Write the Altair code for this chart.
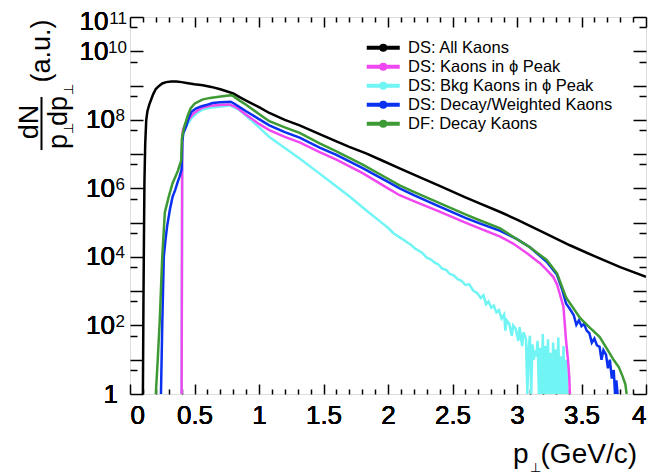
import altair as alt
import pandas as pd
import numpy as np

# ---------------- data (y stored as log10) ----------------
series_names = ["DS: All Kaons", "DS: Kaons in ϕ Peak", "DS: Bkg Kaons in ϕ Peak",
                "DS: Decay/Weighted Kaons", "DF: Decay Kaons"]
series_colors = ["#000000", "#f048f0", "#70f4f4", "#0a30f0", "#3d9a35"]
draw_order = [0, 2, 1, 3, 4]

all_p = [0.100, 0.104, 0.108, 0.112, 0.118, 0.126, 0.135, 0.150, 0.165, 0.180, 0.200,
         0.225, 0.250, 0.280, 0.320, 0.360, 0.400, 0.450, 0.500, 0.565, 0.630, 0.700,
         0.760, 0.800, 0.850, 0.900, 1.000, 1.080, 1.200, 1.315, 1.470, 1.600, 1.700,
         1.830, 1.950, 2.090, 2.200, 2.400, 2.600, 2.710, 2.870, 3.000, 3.200, 3.410,
         3.600, 3.800, 4.000]
all_lg = [0.0, 2.5, 4.5, 6.2, 7.3, 8.0, 8.25, 8.45, 8.60, 8.75, 8.90,
          8.99, 9.06, 9.10, 9.12, 9.12, 9.10, 9.07, 9.04, 9.01, 8.96, 8.89,
          8.82, 8.77, 8.66, 8.56, 8.37, 8.20, 8.00, 7.84, 7.58, 7.37, 7.21,
          7.02, 6.82, 6.58, 6.40, 6.07, 5.74, 5.56, 5.31, 5.09, 4.72, 4.34,
          4.02, 3.70, 3.42]

mag_p = [0.400, 0.405, 0.410, 0.430, 0.450, 0.490, 0.530, 0.565, 0.620, 0.690, 0.770,
         0.820, 0.900, 1.000, 1.080, 1.200, 1.315, 1.470, 1.600, 1.800, 2.000, 2.090,
         2.200, 2.400, 2.600, 2.710, 2.870, 2.970, 3.080, 3.180, 3.230, 3.280, 3.310,
         3.330, 3.360, 3.380, 3.395, 3.405, 3.410]
mag_lg = [0.0, 7.45, 7.70, 7.88, 7.99, 8.18, 8.29, 8.36, 8.41, 8.43, 8.45,
          8.38, 8.15, 7.88, 7.70, 7.50, 7.34, 7.06, 6.84, 6.45, 6.00, 5.80,
          5.63, 5.32, 5.00, 4.83, 4.59, 4.39, 4.10, 3.81, 3.62, 3.42, 3.20,
          2.94, 2.55, 1.57, 1.00, 0.50, 0.0]

bkg_p = [0.400, 0.405, 0.420, 0.450, 0.475, 0.520, 0.565, 0.620, 0.690, 0.770, 0.800,
         0.850, 0.900, 1.000, 1.080, 1.200, 1.315, 1.470, 1.570, 1.700, 1.830, 1.950,
         2.000, 2.040, 2.090, 2.120, 2.150, 2.180, 2.210, 2.240, 2.270, 2.300, 2.330,
         2.360, 2.390, 2.420, 2.450, 2.480, 2.510, 2.540, 2.570, 2.600, 2.630, 2.660,
         2.690, 2.720, 2.740, 2.760, 2.780, 2.800, 2.820, 2.840, 2.860, 2.880, 2.900,
         2.910, 2.920, 2.940, 2.960, 2.970, 2.990, 3.010, 3.020, 3.040, 3.050, 3.070,
         3.080, 3.090, 3.100, 3.110, 3.120, 3.130, 3.140, 3.150, 3.160, 3.170, 3.180,
         3.190, 3.200, 3.210, 3.220, 3.230, 3.240, 3.250, 3.260, 3.270, 3.280, 3.290,
         3.300, 3.310, 3.320, 3.330, 3.340, 3.350, 3.360, 3.370, 3.380, 3.390]
bkg_lg = [0.0, 7.40, 7.70, 7.90, 8.04, 8.20, 8.30, 8.35, 8.38, 8.42, 8.38,
          8.28, 8.12, 7.78, 7.50, 7.18, 6.87, 6.43, 6.14, 5.77, 5.36, 5.00,
          4.85, 4.70, 4.57, 4.50, 4.42, 4.35, 4.24, 4.18, 4.10, 3.98, 3.93,
          3.84, 3.78, 3.66, 3.62, 3.50, 3.46, 3.35, 3.30, 3.18, 3.20, 3.02,
          2.95, 2.80, 2.88, 2.62, 2.70, 2.52, 2.58, 2.38, 2.45, 2.20, 2.32,
          1.85, 2.15, 2.05, 1.70, 2.00, 1.90, 1.55, 1.95, 1.40, 1.80, 1.60,
          0.0, 1.30, 1.70, 0.0, 1.45, 1.00, 1.20, 1.15, 1.55, 0.0, 1.35,
          0.0, 1.75, 0.0, 1.40, 0.0, 1.60, 0.0, 1.20, 0.0, 1.50, 0.0,
          1.30, 0.0, 1.65, 0.0, 1.10, 0.0, 1.40, 0.0, 1.00, 0.0]

dec_p = [0.240, 0.250, 0.262, 0.275, 0.288, 0.310, 0.330, 0.350, 0.370, 0.385, 0.400,
         0.405, 0.412, 0.435, 0.455, 0.475, 0.510, 0.550, 0.590, 0.640, 0.700, 0.745,
         0.780, 0.810, 0.900, 1.000, 1.080, 1.200, 1.315, 1.470, 1.600, 1.800, 2.000,
         2.090, 2.200, 2.400, 2.600, 2.710, 2.870, 3.000, 3.100, 3.230, 3.310, 3.350,
         3.380, 3.410, 3.440, 3.460, 3.480, 3.500, 3.520, 3.540, 3.560, 3.580, 3.600,
         3.620, 3.640, 3.655, 3.670, 3.690, 3.705, 3.720, 3.735, 3.750, 3.760, 3.770,
         3.780]
dec_lg = [0.0, 2.0, 4.0, 4.5, 4.9, 5.4, 5.75, 5.95, 6.19, 6.35, 6.55,
          7.35, 7.60, 7.80, 8.05, 8.23, 8.33, 8.39, 8.43, 8.49, 8.51, 8.52,
          8.53, 8.47, 8.25, 8.02, 7.84, 7.64, 7.48, 7.19, 6.98, 6.60, 6.19,
          6.00, 5.80, 5.47, 5.14, 4.98, 4.76, 4.52, 4.28, 3.86, 3.48, 3.05,
          2.64, 2.48, 2.30, 2.02, 2.15, 1.98, 2.05, 1.85, 1.78, 1.50, 1.62,
          1.42, 1.38, 1.00, 1.28, 1.15, 0.75, 1.00, 0.45, 0.70, 0.0, 0.40,
          0.0]

df_p = [0.200, 0.215, 0.230, 0.250, 0.270, 0.300, 0.330, 0.370, 0.397, 0.402, 0.420,
        0.450, 0.470, 0.500, 0.560, 0.620, 0.690, 0.750, 0.790, 0.850, 0.900, 1.000,
        1.080, 1.200, 1.315, 1.470, 1.600, 1.800, 2.000, 2.090, 2.200, 2.400, 2.600,
        2.710, 2.870, 2.970, 3.100, 3.230, 3.310, 3.380, 3.490, 3.560, 3.640, 3.700,
        3.750, 3.790, 3.820, 3.840, 3.850]
df_lg = [0.0, 1.0, 2.1, 4.0, 5.3, 5.75, 6.15, 6.50, 6.82, 7.45, 7.79,
         8.15, 8.33, 8.47, 8.59, 8.64, 8.67, 8.70, 8.72, 8.56, 8.44, 8.17,
         7.96, 7.78, 7.62, 7.31, 7.08, 6.70, 6.28, 6.09, 5.90, 5.57, 5.24,
         5.07, 4.83, 4.59, 4.28, 3.91, 3.52, 2.82, 2.21, 1.95, 1.67, 1.30,
         0.99, 0.78, 0.50, 0.28, 0.0]

x_major = [0, 0.5, 1, 1.5, 2, 2.5, 3, 3.5, 4]
x_ticks = [round(0.1 * i, 1) for i in range(41)]
y_label_vals = [1, 1e2, 1e4, 1e6, 1e8, 1e10, 1e11]
y_ticks = [10.0 ** k for k in range(12)] + [5 * 10.0 ** k for k in range(11)]

# ---------------- table ----------------
pieces = []
for name, ps, ls in zip(series_names,
                        [all_p, mag_p, bkg_p, dec_p, df_p],
                        [all_lg, mag_lg, bkg_lg, dec_lg, df_lg]):
    pieces.append(pd.DataFrame({"series": name, "p": ps,
                                "v": np.power(10.0, np.array(ls))}))
data = pd.concat(pieces, ignore_index=True)

W, H = 516, 377
FONT = "Liberation Sans"

xscale = alt.Scale(domain=[0, 4], nice=False, zero=False)
yscale = alt.Scale(type="log", domain=[1, 1e11], nice=False)

XMAJ = "abs(datum.value*2 - round(datum.value*2)) < 0.001"
YMAJ = "abs(log(datum.value)/LN10 - round(log(datum.value)/LN10)) < 0.001"

legend = alt.Legend(
    title=None, orient="none", legendX=245, legendY=22.6,
    symbolType="M-3.3,0H3.3M0.4,0A0.4,0.4,0,1,1,-0.4,0A0.4,0.4,0,1,1,0.4,0",
    symbolSize=100, symbolStrokeWidth=4, symbolOffset=0,
    labelFontSize=16.5, labelFont=FONT, labelOffset=16.5, rowPadding=-2,
    padding=0, labelLimit=400,
)
color = alt.Color("series:N", scale=alt.Scale(domain=series_names, range=series_colors),
                  legend=legend)

x_main = alt.X("p:Q", scale=xscale, title=None,
               axis=alt.Axis(orient="bottom", values=x_major, format="~g", tickSize=0,
                             labelFontSize=26, labelFont=FONT, labelPadding=8,
                             labelColor="black", domain=False, grid=False))
y_main = alt.Y("v:Q", scale=yscale, title=None,
               axis=alt.Axis(orient="left", values=y_label_vals,
                             labelExpr="datum.value < 2 ? '1' : '10'",
                             tickSize=0, labelFontSize=26, labelFont=FONT,
                             labelColor="black", domain=False, grid=False,
                             labelOverlap=False,
                             labelPadding={"condition": [
                                 {"test": "datum.value < 2", "value": 12.5},
                                 {"test": "datum.value > 5e9", "value": 22}],
                                 "value": 15.5},
                             labelOffset={"condition": {"test": "datum.value > 5e10", "value": 4},
                                          "value": 0}))

base = alt.Chart(data)
lines = []
for i, k in enumerate(draw_order):
    lines.append(
        base.transform_filter(alt.datum.series == series_names[k])
        .mark_line(strokeWidth=2.5, clip=True, interpolate="linear")
        .encode(x=x_main, y=y_main, color=color)
    )

ghost = base.transform_filter(alt.datum.series == series_names[0]).mark_line(opacity=0)

def tick_axis_x(orient):
    return alt.Axis(orient=orient, offset=-H, values=x_ticks, labels=False, domain=False,
                    grid=False, tickColor="black", tickWidth=1.5,
                    tickSize={"condition": {"test": XMAJ, "value": 10}, "value": 5})

def tick_axis_y(orient):
    return alt.Axis(orient=orient, offset=-W, values=y_ticks, labels=False, domain=False,
                    grid=False, tickColor="black", tickWidth=1.5,
                    tickSize={"condition": {"test": YMAJ, "value": 13}, "value": 7})

# exponent labels + inward bottom ticks
layer2 = ghost.encode(
    x=alt.X("p:Q", scale=xscale, title=None, axis=tick_axis_x("top")),
    y=alt.Y("v:Q", scale=yscale, title=None,
            axis=alt.Axis(orient="left", values=y_label_vals[1:],
                          labelExpr="format(round(log(datum.value)/LN10), 'd')",
                          tickSize=0, labelFontSize=17, labelFont=FONT, labelColor="black",
                          domain=False, grid=False, labelOverlap=False,
                          labelPadding={"condition": {"test": "datum.value > 5e9", "value": 3.5},
                                        "value": 5.5},
                          labelOffset={"condition": {"test": "datum.value > 5e10", "value": 1},
                                       "value": -4})),
)
# inward top ticks + inward left ticks
layer3 = ghost.encode(
    x=alt.X("p:Q", scale=xscale, title=None, axis=tick_axis_x("bottom")),
    y=alt.Y("v:Q", scale=yscale, title=None, axis=tick_axis_y("right")),
)
# inward right ticks
layer4 = ghost.encode(
    x=alt.X("p:Q", scale=xscale, title=None, axis=None),
    y=alt.Y("v:Q", scale=yscale, title=None, axis=tick_axis_y("left")),
)

one = pd.DataFrame({"k": [0]})

def txt(s, x, y, size, angle=0, align="left", baseline="alphabetic"):
    return alt.Chart(one).mark_text(text=s, font=FONT, fontSize=size, angle=angle,
                                    align=align, baseline=baseline, color="black").encode(
        x=alt.value(x), y=alt.value(y))

titles = [
    # y title (rotated)
    txt("dN", -92.5, 105, 27, angle=270, align="center"),
    txt("p", -63, 132, 27, angle=270),
    txt("⊥", -57, 117, 13, angle=270),
    txt("dp", -63, 109, 27, angle=270),
    txt("⊥", -57, 78, 13, angle=270),
    txt("(a.u.)", -80, 34, 27, angle=270, align="center"),
    # x title
    txt("p", 383, 446, 28),
    txt("⊥", 400, 455, 13),
    txt("(GeV/c)", 507, 446, 28, align="right"),
]
frac = alt.Chart(one).mark_rule(color="black", strokeWidth=2).encode(
    x=alt.value(-88.5), y=alt.value(80), y2=alt.value(133))

chart = alt.layer(*lines, layer2, layer3, layer4, frac, *titles).resolve_axis(
    x="independent", y="independent"
).properties(
    width=W, height=H,
    padding={"left": 130, "top": 17, "right": 19, "bottom": 82},
    autosize=alt.AutoSizeParams(type="none"),
).configure_view(
    stroke="black", strokeWidth=1.8
).configure(
    font=FONT, background="white"
)

chart.save("out.html", embed_options={"renderer": "svg", "actions": False})
